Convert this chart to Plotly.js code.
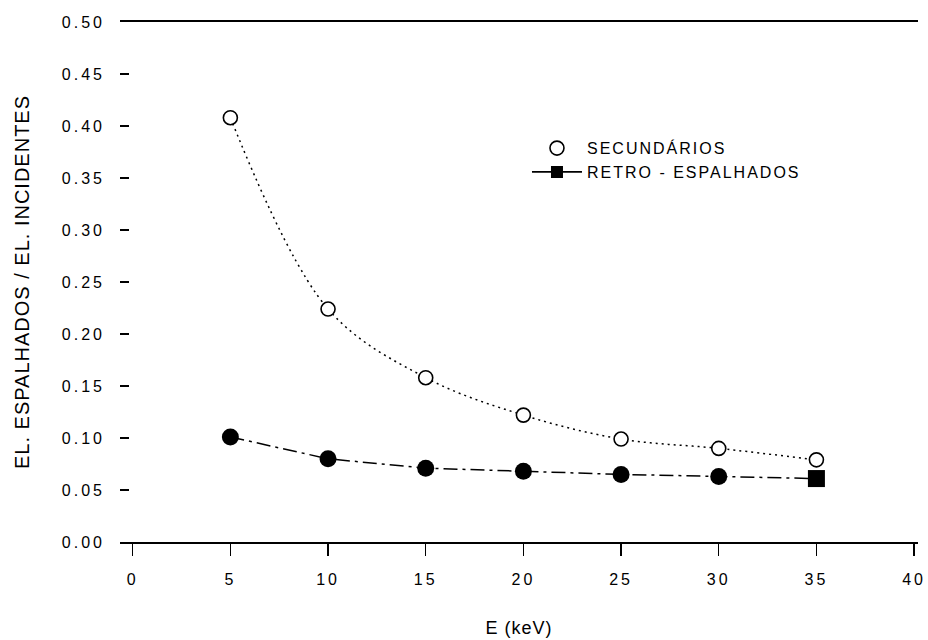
<!DOCTYPE html>
<html>
<head>
<meta charset="utf-8">
<script src="https://cdn.plot.ly/plotly-3.0.1.min.js"></script>
<style>
  html, body { margin: 0; padding: 0; background: #fff; }
  #chart { width: 928px; height: 640px; }
  .xtick text, .ytick text { letter-spacing: 3px; }
  .legendtext { letter-spacing: 2px; }
  .ytitle { letter-spacing: 1px; }
  .xtitle { letter-spacing: 1px; }
</style>
</head>
<body>
<div id="chart"></div>
<script>
// Data
const energy = [5, 10, 15, 20, 25, 30, 35];
const secundarios = [0.408, 0.224, 0.158, 0.122, 0.099, 0.090, 0.079];
const retroEspalhados = [0.101, 0.080, 0.071, 0.068, 0.065, 0.063, 0.061];
const retroSymbols = ['circle', 'circle', 'circle', 'circle', 'circle', 'circle', 'square'];
const xTicks = [0, 5, 10, 15, 20, 25, 30, 35, 40];
const yTicks = [0.00, 0.05, 0.10, 0.15, 0.20, 0.25, 0.30, 0.35, 0.40, 0.45, 0.50];
const nameSec = 'SECUNDÁRIOS';
const nameRetro = 'RETRO - ESPALHADOS';
const xTitle = 'E (keV)';
const yTitle = 'EL. ESPALHADOS / EL. INCIDENTES';

const font = 'Liberation Sans, Arial, sans-serif';

const traces = [
  {
    x: energy, y: secundarios, mode: 'lines', showlegend: false, hoverinfo: 'skip',
    line: { color: '#000', width: 1.5, dash: '2px,4px', shape: 'spline', smoothing: 1 }
  },
  {
    x: energy, y: retroEspalhados, mode: 'lines+markers', showlegend: false,
    line: { color: '#000', width: 1.5, dash: '14px,5px,3px,5px' },
    marker: { symbol: retroSymbols, size: 17, color: '#000', line: { width: 0 } }
  },
  {
    x: energy, y: secundarios, mode: 'markers', name: nameSec,
    marker: { symbol: 'circle', size: 14, color: '#fff', line: { color: '#000', width: 1.6 } }
  },
  {
    x: [null], y: [null], mode: 'lines+markers', name: nameRetro,
    line: { color: '#000', width: 1.8 },
    marker: { symbol: 'square', size: 12, color: '#000' }
  }
];

const layout = {
  width: 928, height: 640,
  margin: { l: 120, r: 10, t: 22, b: 98 },
  paper_bgcolor: '#fff', plot_bgcolor: '#fff',
  font: { family: font, color: '#000', size: 16 },
  showlegend: true,
  legend: {
    x: 0.51, y: 0.79, xanchor: 'left', yanchor: 'top',
    bgcolor: 'rgba(0,0,0,0)', borderwidth: 0,
    font: { family: font, size: 16, color: '#000' },
    tracegroupgap: 0, itemsizing: 'trace', itemwidth: 50
  },
  xaxis: {
    range: [-0.65, 40.2], tickvals: xTicks, ticktext: xTicks.map(String),
    ticks: 'outside', ticklen: 12, tickwidth: 1.5, tickcolor: '#000',
    showline: true, linecolor: '#000', linewidth: 2, mirror: true,
    showgrid: false, zeroline: false,
    tickfont: { family: font, size: 16, color: '#000' },
    ticklabelstandoff: 10,
    title: { text: xTitle, font: { family: font, size: 18, color: '#000' }, standoff: 34 }
  },
  yaxis: {
    range: [0, 0.5], tickvals: yTicks, tickformat: '.2f',
    ticks: 'inside', ticklen: 9, tickwidth: 1.5, tickcolor: '#000',
    showline: false, showgrid: false, zeroline: false,
    tickfont: { family: font, size: 16, color: '#000' },
    ticklabelstandoff: 14,
    title: { text: yTitle, font: { family: font, size: 20, color: '#000' }, standoff: 26 }
  }
};

Plotly.newPlot('chart', traces, layout, { displayModeBar: false, staticPlot: true });
</script>
</body>
</html>
